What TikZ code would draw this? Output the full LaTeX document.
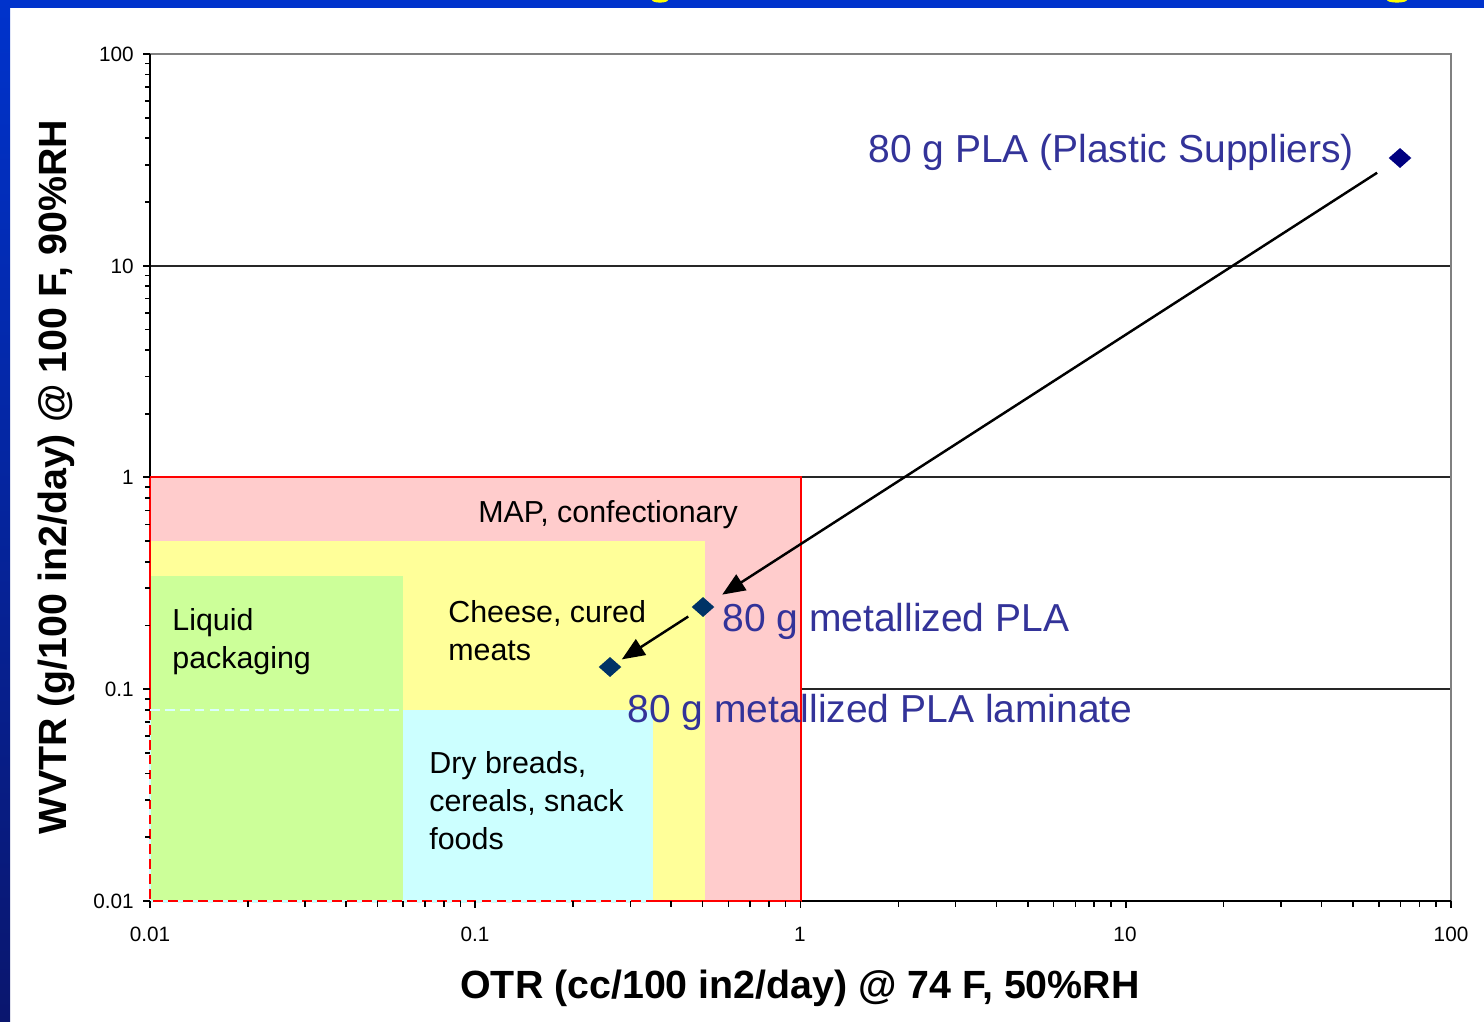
\documentclass[tikz,border=0pt]{standalone}
\usepackage{fontspec}
\setmainfont{Liberation Sans}
\usetikzlibrary{shapes.geometric,arrows.meta}

\definecolor{framebl}{RGB}{0,51,204}
\definecolor{framedk}{RGB}{10,22,110}
\definecolor{titleyel}{RGB}{255,255,0}
\definecolor{mappink}{RGB}{255,204,204}
\definecolor{cheeseyel}{RGB}{255,255,153}
\definecolor{liqgreen}{RGB}{204,255,153}
\definecolor{drycyan}{RGB}{204,255,255}
\definecolor{lblue}{RGB}{51,51,153}
\definecolor{mknavy}{RGB}{0,0,128}
\definecolor{mkteal}{RGB}{0,51,102}
\definecolor{framegray}{RGB}{128,128,128}

\tikzset{
  region/.style={font=\fontsize{17.3}{20}\selectfont, anchor=base west, inner sep=0pt, text=black},
  datalbl/.style={font=\fontsize{22.2}{26}\selectfont, anchor=base west, inner sep=0pt, text=lblue},
  ticklbl/.style={font=\fontsize{11.8}{14}\selectfont, inner sep=0pt},
  axtitle/.style={font=\bfseries\fontsize{22.4}{26}\selectfont, inner sep=0pt},
  datapt/.style={diamond, inner sep=0pt, minimum width=13pt, minimum height=11.5pt},
  arr/.style={line width=1.4pt, -{Triangle[length=13pt,width=10.5pt]}},
  grid/.style={line width=0.8pt, black!85},
}

\begin{document}
\begin{tikzpicture}[x=0.02cm, y=-0.02cm]
\useasboundingbox (0,0) rectangle (1484,1021);
\fill[white] (0,0) rectangle (1484,1021);

% slide frame
\fill[framebl] (0,0) rectangle (1484,8);
\shade[top color=framebl, bottom color=framedk] (0,0) rectangle (10,1021);
\begin{scope}
  \clip (0,0) rectangle (1484,8);
  \fill[titleyel] (660,0) ellipse [x radius=8, y radius=2.6];
  \fill[titleyel] (1397,0) ellipse [x radius=10, y radius=2.6];
\end{scope}

% horizontal grid lines at 10, 1, 0.1
\foreach \yy in {266,477,689} \draw[grid] (150,\yy) -- (1451,\yy);
% plot frame (top and right)
\draw[framegray, line width=1.1pt] (150,54) -- (1451,54) -- (1451,901);

% application regions
\fill[mappink]   (150,477) rectangle (801,901);
\fill[cheeseyel] (150,541) rectangle (705,901);
\fill[liqgreen]  (150,576) rectangle (403,901);
\fill[drycyan]   (403,710) rectangle (653,901);

% axes
\draw[black, line width=0.9pt] (150,54) -- (150,901) -- (1451,901);

% region borders
\draw[red, line width=1.6pt] (150,710) -- (150,477) -- (801,477) -- (801,901) -- (653,901);
\draw[red, line width=1.6pt] (150,710) -- (150,901) -- (653,901);
\draw[drycyan!70!white, line width=1.5pt, dash pattern=on 5.5pt off 3pt] (150,710) -- (403,710);
\draw[drycyan, line width=1.7pt, dash pattern=on 3pt off 5.5pt, dash phase=3pt] (150,710) -- (150,901) -- (653,901);

% log ticks
\foreach \d in {0,1,2,3}{
  \pgfmathsetmacro\xm{150+\d*325.25}
  \draw[black, line width=0.9pt] (\xm,901) -- (\xm,908);
  \foreach \k in {2,...,9}{
    \pgfmathsetmacro\xx{150+(\d+log10(\k))*325.25}
    \draw[black, line width=0.9pt] (\xx,901) -- (\xx,907);
    \pgfmathsetmacro\yy{901-(\d+log10(\k))*211.75}
    \draw[black, line width=0.9pt] (145,\yy) -- (150,\yy);
  }
}
\draw[black, line width=0.9pt] (1451,901) -- (1451,908);
\foreach \yy in {54,266,477,689,901} \draw[black, line width=0.9pt] (143,\yy) -- (150,\yy);

% tick labels
\node[ticklbl, anchor=east] (y100) at (134,54)  {100};
\node[ticklbl, anchor=east] (y10)  at (134,266) {10};
\node[ticklbl, anchor=east] (y1)   at (134,477) {1};
\node[ticklbl, anchor=east] (y01)  at (134,689) {0.1};
\node[ticklbl, anchor=east] (y001) at (134,901) {0.01};
\node[ticklbl, anchor=north] (x001) at (150,927)  {0.01};
\node[ticklbl, anchor=north] (x01)  at (475,927)  {0.1};
\node[ticklbl, anchor=north] (x1)   at (800,927)  {1};
\node[ticklbl, anchor=north] (x10)  at (1125,927) {10};
\node[ticklbl, anchor=north] (x100) at (1451,927) {100};

% axis titles
\node[axtitle, anchor=base] (xtitle) at (800,998) {OTR (cc/100 in2/day) @ 74 F, 50\%RH};
\node[axtitle, anchor=base, rotate=90] (ytitle) at (66,477) {WVTR (g/100 in2/day) @ 100 F, 90\%RH};

% region labels
\node[region] (map)     at (478,522) {MAP, confectionary};
\node[region] (cheeseA) at (448,622) {Cheese, cured};
\node[region] (cheeseB) at (448,660) {meats};
\node[region] (liqA)    at (172,630) {Liquid};
\node[region] (liqB)    at (172,668) {packaging};
\node[region] (dryA)    at (429,773) {Dry breads,};
\node[region] (dryB)    at (429,811) {cereals, snack};
\node[region] (dryC)    at (429,849) {foods};

% data points
\node[datapt, fill=mknavy] (pla) at (1400,158) {};
\node[datapt, fill=mkteal] (met) at (703,607) {};
\node[datapt, fill=mkteal] (lam) at (610,667) {};

% data labels
\node[datalbl] (plaLbl) at (868,162) {80 g PLA (Plastic Suppliers)};
\node[datalbl] (metLbl) at (722,631) {80 g metallized PLA};
\node[datalbl] (lamLbl) at (627,722) {80 g metallized PLA laminate};

% improvement arrows
\draw[arr, shorten <=15.5pt, shorten >=13pt] (pla.center) -- (met.center);
\draw[arr, shorten <=10pt, shorten >=8pt] (met.center) -- (lam.center);
\end{tikzpicture}
\end{document}
